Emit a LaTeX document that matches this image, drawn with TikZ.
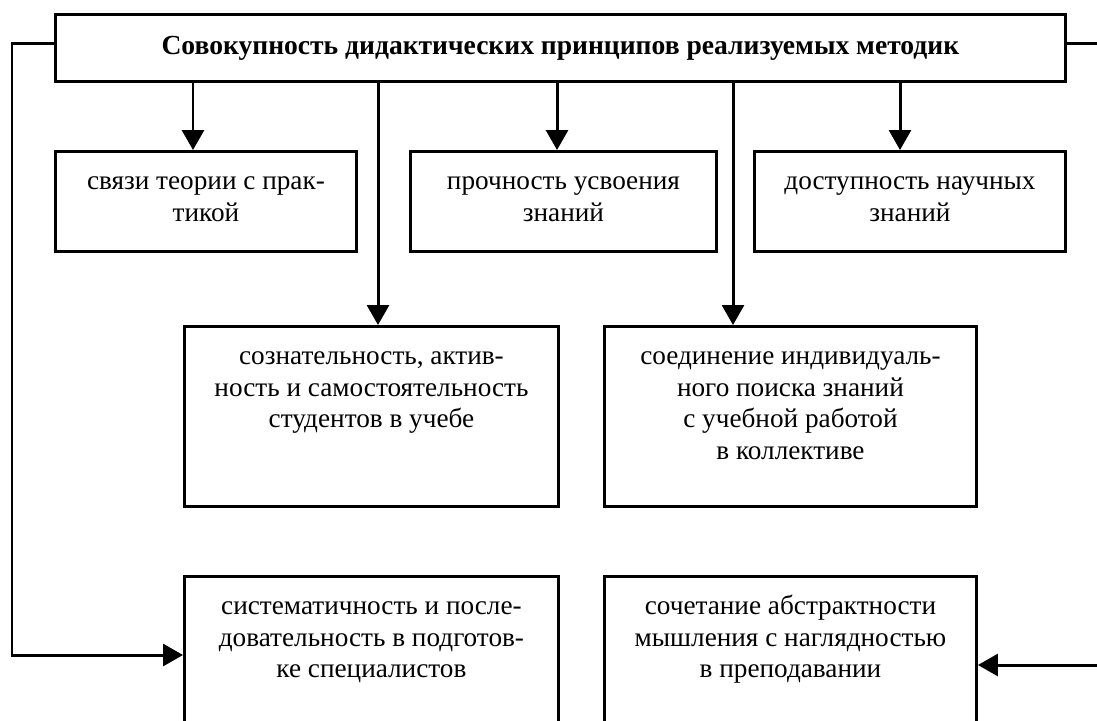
\documentclass[tikz,border=0pt]{standalone}
\usepackage{fontspec}
\setmainfont{Liberation Serif}
\usetikzlibrary{arrows.meta,calc}

\newcommand{\boxtxt}[3]{\parbox[t][#2][t]{#1}{\centering\rule{0pt}{0.76cm}#3}}

\begin{document}
\begin{tikzpicture}[x=0.02cm,y=-0.02cm,
	box/.style={draw,line width=1.7pt,inner sep=0pt,anchor=north west,font=\fontsize{15.5}{18}\selectfont},
	arr/.style={line width=1.7pt,-{Triangle[length=0.4cm,width=0.44cm]}}]
	\useasboundingbox (0,0) rectangle (1097,720);

	\node[box] (title) at (54,13) {\parbox[c][1.34cm][c]{20.2cm}{\centering\fontsize{15.7}{18}\selectfont\bfseries Совокупность дидактических принципов реализуемых методик}};

	\node[box] (b1) at (54,150) {\boxtxt{6.02cm}{2cm}{связи теории с прак-\\тикой}};
	\node[box] (b2) at (409,150) {\boxtxt{6.12cm}{2cm}{прочность усвоения\\знаний}};
	\node[box] (b3) at (753,150) {\boxtxt{6.22cm}{2cm}{доступность научных\\знаний}};

	\node[box] (b4) at (183,325) {\boxtxt{7.48cm}{3.6cm}{сознательность, актив-\\ность и самостоятельность\\студентов в учебе}};
	\node[box] (b5) at (603,325) {\boxtxt{7.44cm}{3.6cm}{соединение индивидуаль-\\ного поиска знаний\\с учебной работой\\в коллективе}};

	\node[box] (b6) at (183,575) {\boxtxt{7.48cm}{3.6cm}{систематичность и после-\\довательность в подготов-\\ке специалистов}};
	\node[box] (b7) at (603,575) {\boxtxt{7.44cm}{3.6cm}{сочетание абстрактности\\мышления с наглядностью\\в преподавании}};

	\coordinate (c1) at (193,0);
	\coordinate (c2) at (557,0);
	\coordinate (c3) at (900,0);
	\coordinate (c4) at (378,0);
	\coordinate (c5) at (733,0);

	\draw[arr] (c1 |- title.south) -- (c1 |- b1.north);
	\draw[arr] (c2 |- title.south) -- (c2 |- b2.north);
	\draw[arr] (c3 |- title.south) -- (c3 |- b3.north);
	\draw[arr] (c4 |- title.south) -- (c4 |- b4.north);
	\draw[arr] (c5 |- title.south) -- (c5 |- b5.north);

	\draw[arr] ($(title.west)+(0,-4)$) -- ++(-42,0) |- ($(b6.north west)+(0,80)$);
	\draw[arr] ($(title.east)+(0,-4)$) -- ++(38,0) |- ($(b7.north east)+(0,90)$);
\end{tikzpicture}
\end{document}
